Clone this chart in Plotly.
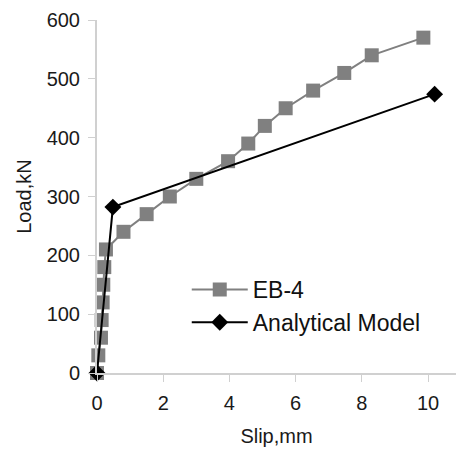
import plotly.graph_objects as go

eb4_slip = [0, 0.04, 0.12, 0.14, 0.17, 0.19, 0.22, 0.27, 0.8, 1.5, 2.2, 3.0, 3.96, 4.57, 5.07, 5.7, 6.53, 7.47, 8.3, 9.86]
eb4_load = [0, 30, 60, 90, 120, 150, 180, 210, 240, 270, 300, 330, 360, 390, 420, 450, 480, 510, 540, 570]
model_slip = [0, 0.48, 10.2]
model_load = [0, 282, 474]

x_ticks = [0, 2, 4, 6, 8, 10]
y_ticks = [0, 100, 200, 300, 400, 500, 600]

FONT = "Liberation Sans, Arial, sans-serif"

fig = go.Figure()
fig.add_trace(go.Scatter(
    x=eb4_slip, y=eb4_load, name="EB-4", mode="lines+markers",
    line=dict(color="#808080", width=2),
    marker=dict(symbol="square", size=14, color="#808080"),
    cliponaxis=False,
))
fig.add_trace(go.Scatter(
    x=model_slip, y=model_load, name="Analytical Model", mode="lines+markers",
    line=dict(color="#000000", width=2),
    marker=dict(symbol="diamond", size=13, color="#000000"),
    cliponaxis=False,
))

fig.update_layout(
    width=456, height=453,
    margin=dict(l=97, r=0, t=20, b=80),
    paper_bgcolor="white", plot_bgcolor="white",
    font=dict(family=FONT, color="#1a1a1a"),
    showlegend=True,
    legend=dict(x=0.25, y=0.19, xanchor="left", yanchor="middle",
                font=dict(size=23, family=FONT, color="#111111"),
                bgcolor="rgba(0,0,0,0)", itemwidth=56),
    xaxis=dict(range=[0, 10.846], tickvals=x_ticks, showgrid=False, zeroline=False,
               showline=True, linecolor="#d0d0d0", linewidth=2,
               ticks="outside", ticklen=7, tickcolor="#d0d0d0", tickwidth=1,
               tickfont=dict(size=20, family=FONT), ticklabelstandoff=4,
               title=dict(text="Slip,mm", font=dict(size=20, family=FONT), standoff=16)),
    yaxis=dict(range=[0, 600], tickvals=y_ticks, showgrid=False, zeroline=False,
               showline=True, linecolor="#d0d0d0", linewidth=2,
               ticks="outside", ticklen=7, tickcolor="#d0d0d0", tickwidth=1,
               tickfont=dict(size=20, family=FONT), ticklabelstandoff=4,
               title=dict(text="Load,kN", font=dict(size=20, family=FONT), standoff=10)),
)

fig.write_html("out.html")
